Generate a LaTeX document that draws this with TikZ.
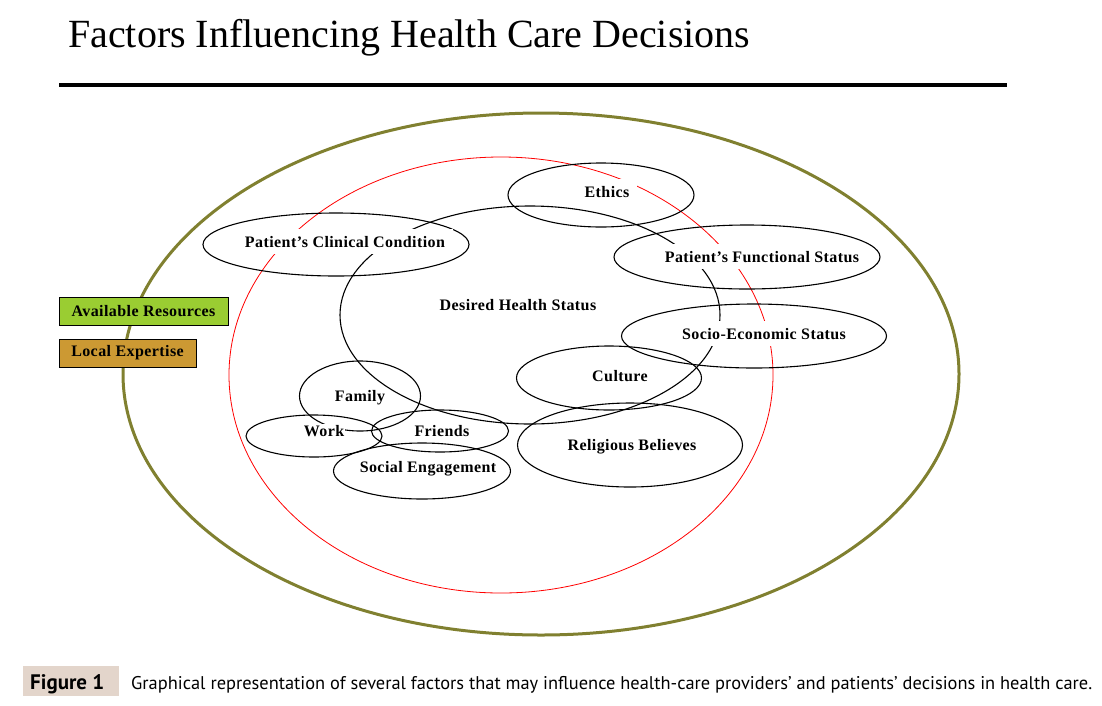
\documentclass[tikz,border=0pt]{standalone}
\usepackage{fontspec}
\setmainfont{Liberation Serif}
\newfontfamily\lblfont{Liberation Serif}[LetterSpace=2.6]
\newfontfamily\capfont{PT Sans}
\usepackage{tikz}
\usetikzlibrary{shapes.geometric}
\definecolor{olivering}{RGB}{128,128,48}
\definecolor{resgreen}{RGB}{154,205,50}
\definecolor{expgold}{RGB}{204,153,51}
\definecolor{figbeige}{RGB}{227,213,203}
\tikzstyle{factor} = [draw, ellipse, inner sep=0pt, line width=1.1pt]
\tikzstyle{lbl} = [fill=white, inner xsep=8pt, inner ysep=7pt, anchor=base,
font=\lblfont\bfseries\fontsize{16}{18}\selectfont]
\begin{document}
\begin{tikzpicture}[x=1pt, y=-1pt,
            box/.style={draw, line width=0.8pt, minimum height=28pt, inner sep=0pt,
            font=\lblfont\bfseries\fontsize{16}{18}\selectfont}]
            \useasboundingbox (0,0) rectangle (1102,705);
            %% Title
            \node[anchor=base west, inner sep=0pt, font=\fontsize{40}{44}\selectfont] (title) at (68,47) {Factors Influencing Health Care Decisions};
            \coordinate (ruleL) at (59,85);
            \coordinate (ruleR) at (1007,85);
            \draw[line width=4pt] (ruleL) -- (ruleR);
            %% Rings
            \node[factor, draw=olivering, line width=3pt, minimum width=836pt, minimum height=522pt] (outer) at (541,374) {};
            \node[factor, draw=red, line width=0.8pt, minimum width=544pt, minimum height=436pt] (care) at (501,375) {};
            \node[factor, minimum width=380pt, minimum height=218pt] (desired) at (530,315) {};
            %% Factors
            \node[factor, minimum width=186pt, minimum height=64pt] (ethics) at (601,195) {};
            \node[factor, minimum width=266pt, minimum height=63pt] (clinical) at (336,244.5) {};
            \node[factor, minimum width=266pt, minimum height=64pt] (functional) at (747,257) {};
            \node[factor, minimum width=265pt, minimum height=64pt] (socio) at (754,336) {};
            \node[factor, minimum width=185pt, minimum height=64pt] (culture) at (609,378) {};
            \node[factor, minimum width=225pt, minimum height=84pt] (religion) at (630,445) {};
            \node[factor, minimum width=121pt, minimum height=70pt] (family) at (360,396) {};
            \node[factor, minimum width=136pt, minimum height=42pt] (work) at (314,436) {};
            \node[factor, minimum width=137pt, minimum height=42pt] (friends) at (440,431) {};
            \node[factor, minimum width=177pt, minimum height=56pt] (social) at (422,471) {};
            %% Labels
            \node[lbl] (ethicsT) at (607,197) {Ethics};
            \node[lbl] (clinicalT) at (345,247) {Patient’s Clinical Condition};
            \node[lbl] (functionalT) at (762,262) {Patient’s Functional Status};
            \node[lbl] (socioT) at (764,339) {Socio-Economic Status};
            \node[lbl] (cultureT) at (620,381) {Culture};
            \node[lbl] (desiredT) at (518,310) {Desired Health Status};
            \node[lbl] (religionT) at (632,450) {Religious Believes};
            \node[lbl, inner sep=2pt] (familyT) at (360,401) {Family};
            \node[lbl, inner sep=1pt] (workT) at (324,436) {Work};
            \node[lbl, inner sep=2pt] (friendsT) at (442,436) {Friends};
            \node[lbl, inner sep=2pt] (socialT) at (428,472) {Social Engagement};
            %% Resources
            \node[box, fill=resgreen, minimum width=169pt] (resources) at (143.5,311) {Available Resources};
            \node[box, fill=expgold, minimum width=137pt] (expertise) at (127.5,353) {Local Expertise};
            %% Caption
            \node[fill=figbeige, minimum width=96pt, minimum height=30pt, inner sep=0pt] (figtag) at (71,681) {};
            \node[anchor=base west, inner sep=0pt, font=\capfont\bfseries\fontsize{21}{24}\selectfont] (figlabel) at (30,689) {Figure 1};
            \node[anchor=base west, inner sep=0pt, font=\capfont\fontsize{18.4}{22}\selectfont] (caption) at (131,689) {Graphical representation of several factors that may influence health-care providers’ and patients’ decisions in health care.};
        \end{tikzpicture}
\end{document}
